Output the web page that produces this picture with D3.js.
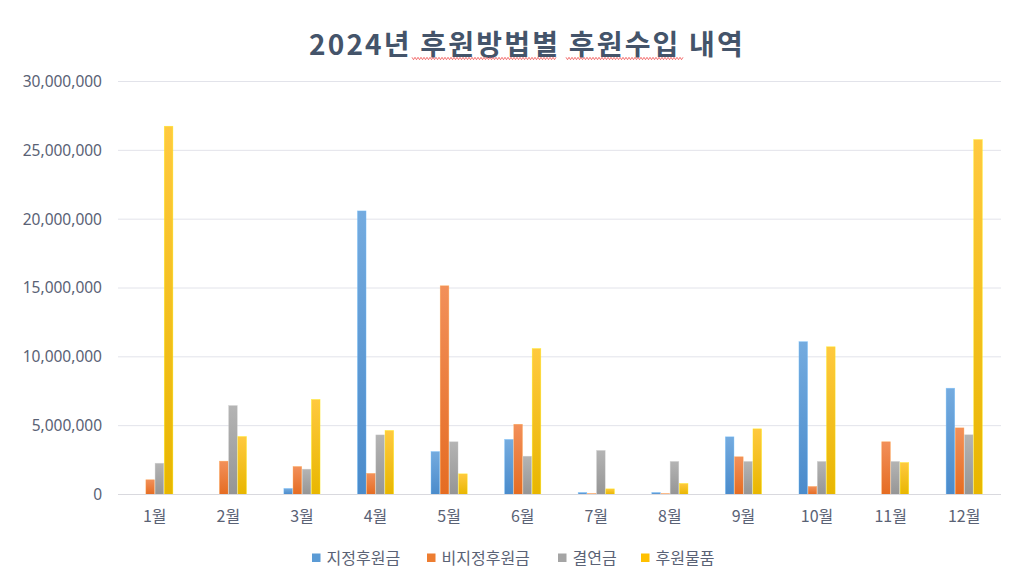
<!DOCTYPE html>
<html><head><meta charset="utf-8">
<script src="https://cdn.jsdelivr.net/npm/d3@7"></script>
<style>
body{margin:0;background:#fff;}
svg{display:block;}
</style></head>
<body>
<svg id="chart" width="1024" height="585"></svg>
<script>
const months = ["1월","2월","3월","4월","5월","6월","7월","8월","9월","10월","11월","12월"];
const seriesNames = ["지정후원금","비지정후원금","결연금","후원물품"];
const designated = [0, 0, 440000, 20600000, 3120000, 4000000, 150000, 150000, 4190000, 11100000, 0, 7720000];
const undesignated = [1070000, 2420000, 2030000, 1530000, 15160000, 5100000, 70000, 70000, 2740000, 580000, 3830000, 4840000];
const sponsorship = [2270000, 6460000, 1840000, 4330000, 3830000, 2780000, 3200000, 2400000, 2400000, 2400000, 2400000, 4340000];
const goods = [26750000, 4210000, 6900000, 4650000, 1500000, 10600000, 410000, 800000, 4770000, 10730000, 2320000, 25780000];
const yTicks = [0, 5000000, 10000000, 15000000, 20000000, 25000000, 30000000];
const titleText = "2024년 후원방법별 후원수입 내역";

const seriesValues = [designated, undesignated, sponsorship, goods];
const colors = ["#5B9BD5","#ED7D31","#A5A5A5","#FFC000"];
const topColors = ["#74abdf","#f2905a","#b4b4b4","#ffc93f"];
const botColors = ["#4a8bcb","#e56c22","#959595","#e8b600"];

const svg = d3.select("#chart");
const margin = {left:118, right:1001, top:81.5, bottom:494.5};

const x0 = d3.scaleBand().domain(months).range([margin.left, margin.right]).paddingInner(0).paddingOuter(0);
// group occupies half of each band (gap width 100%)
const groupW = x0.bandwidth()/2;
const x1s = d3.scaleBand().domain(seriesNames).range([(x0.bandwidth()-groupW)/2, (x0.bandwidth()+groupW)/2]);
const y = d3.scaleLinear().domain([0, 30000000]).range([margin.bottom, margin.top]);

// gradients
const defs = svg.append("defs");
seriesNames.forEach((s,i)=>{
  const g = defs.append("linearGradient").attr("id","g"+i).attr("x1",0).attr("y1",0).attr("x2",0).attr("y2",1);
  g.append("stop").attr("offset","0%").attr("stop-color",topColors[i]);
  g.append("stop").attr("offset","100%").attr("stop-color",botColors[i]);
});

// gridlines
svg.append("g").selectAll("line").data(yTicks.filter(d=>d>0)).join("line")
  .attr("x1", margin.left).attr("x2", margin.right)
  .attr("y1", d=>y(d)).attr("y2", d=>y(d))
  .attr("stroke","#e2e3ea").attr("stroke-width",1);

// y axis labels
const yAxis = d3.axisLeft(y).tickValues(yTicks).tickFormat(d3.format(",")).tickSize(0).tickPadding(0);
const yg = svg.append("g").attr("transform","translate(102,0)").call(yAxis);
yg.select(".domain").remove();
yg.selectAll("text").attr("font-family","'Noto Sans', 'Open Sans', sans-serif").attr("font-size","15.5px").attr("fill","#5a6275");

// bars
const groups = svg.append("g").selectAll("g").data(months).join("g")
  .attr("transform", d=>`translate(${x0(d)},0)`);
groups.selectAll("rect").data((m,mi)=>seriesNames.map((s,si)=>({s, si, v: seriesValues[si][mi]})))
  .join("rect")
  .filter(d=>d.v>0)
  .attr("x", d=>x1s(d.s)+0.3)
  .attr("width", x1s.bandwidth()-0.6)
  .attr("y", d=>y(d.v))
  .attr("height", d=>y(0)-y(d.v))
  .attr("fill", d=>`url(#g${d.si})`)
  .attr("stroke", d=>d3.color(colors[d.si]).brighter(0.6))
  .attr("stroke-opacity",0.6)
  .attr("stroke-width",0.6);

// x axis line
svg.append("line").attr("x1",margin.left).attr("x2",margin.right).attr("y1",y(0)).attr("y2",y(0))
  .attr("stroke","#d9d9de").attr("stroke-width",1);

// x axis labels
const xAxis = d3.axisBottom(x0).tickSize(0).tickPadding(0);
const xg = svg.append("g").attr("transform",`translate(0,${y(0)+23})`).call(xAxis);
xg.select(".domain").remove();
xg.selectAll("text").attr("font-family","'Noto Sans CJK KR', sans-serif").attr("font-size","16px").attr("fill","#5a6275").attr("dy","0.3em");

// title
svg.append("text").attr("x",527).attr("y",55).attr("text-anchor","middle")
  .attr("font-family","'Noto Sans CJK KR', sans-serif").attr("font-weight","bold").attr("font-size","28px")
  .attr("letter-spacing","2.2px")
  .attr("fill","#44546a").text(titleText);

// spell-check wavy underlines (as in reference)
function wavy(x1, x2, yy){
  const pts=[]; for(let xx=x1, k=0; xx<=x2; xx+=1.5, k++) pts.push([xx, yy + (k%2? 1.2:-1.2)]);
  return d3.line()(pts);
}
svg.append("path").attr("d", wavy(412, 557, 58.5)).attr("fill","none").attr("stroke","#f05050").attr("stroke-width",0.8);
svg.append("path").attr("d", wavy(566, 683, 58.5)).attr("fill","none").attr("stroke","#f05050").attr("stroke-width",0.8);

// legend
const legendX = [312, 427, 558, 641];
const lg = svg.append("g").selectAll("g").data(seriesNames).join("g")
  .attr("transform",(d,i)=>`translate(${legendX[i]},558)`);
lg.append("rect").attr("x",0).attr("y",-4.5).attr("width",8.5).attr("height",8.5).attr("fill",(d,i)=>colors[i]);
lg.append("text").attr("x",14.5).attr("y",0).attr("dy","0.35em")
  .attr("font-family","'Noto Sans CJK KR', sans-serif").attr("font-size","16px").attr("fill","#5a6275")
  .text(d=>d);
</script>
</body></html>
